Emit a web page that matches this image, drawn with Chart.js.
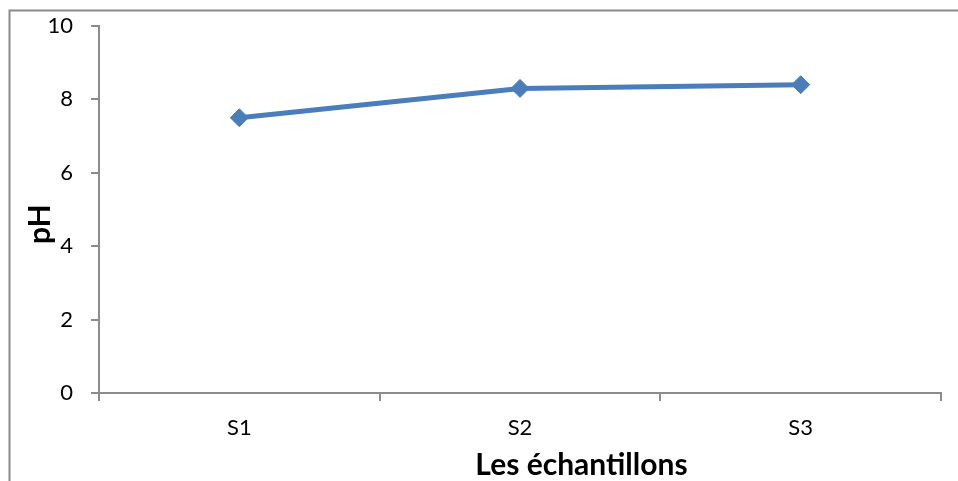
<!DOCTYPE html>
<html>
<head>
<meta charset="utf-8">
<script src="https://cdn.jsdelivr.net/npm/chart.js@4/dist/chart.umd.min.js"></script>
<style>
  html, body { margin: 0; padding: 0; background: #ffffff; }
  canvas { display: block; }
</style>
</head>
<body>
<canvas id="chart" width="958" height="481"></canvas>
<script>
// pH mesuré pour chaque échantillon
const categories = ['S1', 'S2', 'S3'];
const phValues = [7.5, 8.3, 8.4];
const yTicks = [0, 2, 4, 6, 8, 10];

const xTitle = 'Les échantillons';
const yTitle = 'pH';

const axisGrey = '#8c8c8c';
const seriesBlue = '#4a7ebb';
const tickFont = { family: 'Lato', size: 22 };
const titleFont = 'bold 30px Lato';

// Cadre extérieur (bords gauche et haut) et titres des axes
const decorations = {
  id: 'decorations',
  beforeDraw(chart) {
    const ctx = chart.ctx;
    ctx.save();
    ctx.strokeStyle = '#8a8a8a';
    ctx.lineWidth = 2;
    ctx.beginPath();
    ctx.moveTo(9.5, chart.height);
    ctx.lineTo(9.5, 10.5);
    ctx.lineTo(chart.width, 10.5);
    ctx.stroke();
    ctx.restore();
  },
  afterDraw(chart) {
    const ctx = chart.ctx;
    const area = chart.chartArea;
    ctx.save();
    ctx.fillStyle = '#000000';
    ctx.font = titleFont;
    ctx.textAlign = 'center';
    ctx.textBaseline = 'alphabetic';
    ctx.fillText(xTitle, area.left + (area.right - area.left) * 0.573, 475);
    ctx.translate(50, area.top + (area.bottom - area.top) * 0.54);
    ctx.rotate(-Math.PI / 2);
    ctx.fillText(yTitle, 0, 0);
    ctx.restore();
  }
};

new Chart(document.getElementById('chart'), {
  type: 'line',
  data: {
    labels: categories,
    datasets: [{
      label: 'pH',
      data: phValues,
      borderColor: seriesBlue,
      backgroundColor: seriesBlue,
      borderWidth: 5,
      pointStyle: 'rectRot',
      pointRadius: 9,
      pointBorderWidth: 1,
      pointBackgroundColor: seriesBlue,
      pointBorderColor: seriesBlue,
      tension: 0
    }]
  },
  options: {
    responsive: false,
    devicePixelRatio: 1,
    animation: false,
    layout: { padding: { left: 0, right: 17, top: 26, bottom: 0 } },
    plugins: {
      legend: { display: false },
      tooltip: { enabled: false }
    },
    scales: {
      x: {
        type: 'category',
        offset: true,
        grid: {
          offset: true,
          drawOnChartArea: false,
          drawTicks: true,
          tickLength: 8,
          color: axisGrey,
          lineWidth: 2
        },
        border: { color: axisGrey, width: 2 },
        ticks: { color: '#000000', font: tickFont, padding: 14, maxRotation: 0 },
        afterFit(scale) {
          scale.height = 88;
          scale.paddingLeft = 0;
          scale.paddingRight = 0;
        }
      },
      y: {
        min: 0,
        max: 10,
        ticks: { color: '#000000', font: tickFont, padding: 18, stepSize: 2 },
        grid: {
          drawOnChartArea: false,
          drawTicks: true,
          tickLength: 8,
          color: axisGrey,
          lineWidth: 2
        },
        border: { color: axisGrey, width: 2 },
        afterFit(scale) {
          scale.width = 99;
          scale.paddingTop = 0;
          scale.paddingBottom = 0;
        }
      }
    }
  },
  plugins: [decorations]
});
</script>
</body>
</html>
